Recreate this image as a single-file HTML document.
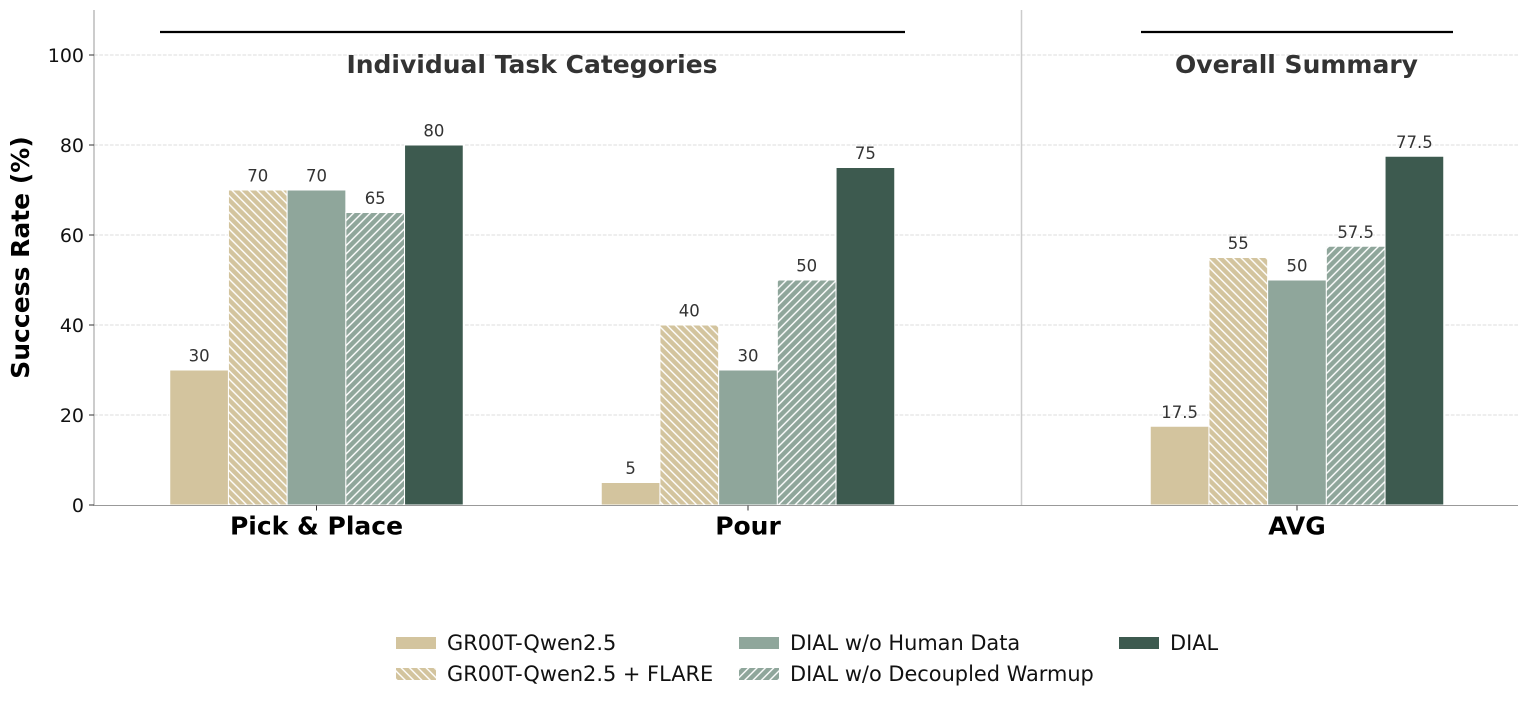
<!DOCTYPE html>
<html>
<head>
<meta charset="utf-8">
<style>
  html,body{margin:0;padding:0;background:#fff;}
  svg{display:block;}
  text{font-family:"DejaVu Sans","Liberation Sans",sans-serif;}
</style>
</head>
<body>
<svg width="1528" height="702" viewBox="0 0 1528 702" xmlns="http://www.w3.org/2000/svg">
  <defs>
    <pattern id="hTanBack" patternUnits="userSpaceOnUse" width="8.333" height="8.333">
      <rect width="8.333" height="8.333" fill="#d3c49e"/>
      <path d="M0,0 L8.333,8.333 M-4.1665,4.1665 L4.1665,12.5 M4.1665,-4.1665 L12.5,4.1665" stroke="#fff" stroke-width="1.4"/>
    </pattern>
    <pattern id="hSageFwd" patternUnits="userSpaceOnUse" width="8.333" height="8.333">
      <rect width="8.333" height="8.333" fill="#8fa69b"/>
      <path d="M0,8.333 L8.333,0 M-4.1665,4.1665 L4.1665,-4.1665 M4.1665,12.5 L12.5,4.1665" stroke="#fff" stroke-width="1.4"/>
    </pattern>
  </defs>

  <!-- grid -->
  <g stroke="#dddddd" stroke-width="1" stroke-dasharray="3.7,1.6">
    <line x1="94" y1="55" x2="1518" y2="55"/>
    <line x1="94" y1="145" x2="1518" y2="145"/>
    <line x1="94" y1="235" x2="1518" y2="235"/>
    <line x1="94" y1="325" x2="1518" y2="325"/>
    <line x1="94" y1="415" x2="1518" y2="415"/>
  </g>

  <!-- separator -->
  <line x1="1021.5" y1="10" x2="1021.5" y2="505" stroke="#cccccc" stroke-width="1.5"/>

  <!-- bars -->
  <g stroke="#fff" stroke-width="1">
    <rect x="169.75" y="370" width="58.7" height="135" fill="#d3c49e"/>
    <rect x="228.45" y="190" width="58.7" height="315" fill="url(#hTanBack)"/>
    <rect x="287.15" y="190" width="58.7" height="315" fill="#8fa69b"/>
    <rect x="345.85" y="212.5" width="58.7" height="292.5" fill="url(#hSageFwd)"/>
    <rect x="404.55" y="145" width="58.7" height="360" fill="#3d5a4f"/>

    <rect x="601.25" y="482.5" width="58.7" height="22.5" fill="#d3c49e"/>
    <rect x="659.95" y="325" width="58.7" height="180" fill="url(#hTanBack)"/>
    <rect x="718.65" y="370" width="58.7" height="135" fill="#8fa69b"/>
    <rect x="777.35" y="280" width="58.7" height="225" fill="url(#hSageFwd)"/>
    <rect x="836.05" y="167.5" width="58.7" height="337.5" fill="#3d5a4f"/>

    <rect x="1150.25" y="426.25" width="58.7" height="78.75" fill="#d3c49e"/>
    <rect x="1208.95" y="257.5" width="58.7" height="247.5" fill="url(#hTanBack)"/>
    <rect x="1267.65" y="280" width="58.7" height="225" fill="#8fa69b"/>
    <rect x="1326.35" y="246.25" width="58.7" height="258.75" fill="url(#hSageFwd)"/>
    <rect x="1385.05" y="156.25" width="58.7" height="348.75" fill="#3d5a4f"/>
  </g>

  <!-- value labels -->
  <g fill="#333333" font-size="16.5" text-anchor="middle">
    <text x="199.1" y="361.5">30</text>
    <text x="257.8" y="181.5">70</text>
    <text x="316.5" y="181.5">70</text>
    <text x="375.2" y="204">65</text>
    <text x="433.9" y="136.5">80</text>

    <text x="630.6" y="474">5</text>
    <text x="689.3" y="316.5">40</text>
    <text x="748" y="361.5">30</text>
    <text x="806.7" y="271.5">50</text>
    <text x="865.4" y="159">75</text>

    <text x="1179.6" y="417.75">17.5</text>
    <text x="1238.3" y="249">55</text>
    <text x="1297" y="271.5">50</text>
    <text x="1355.7" y="237.75">57.5</text>
    <text x="1414.4" y="147.75">77.5</text>
  </g>

  <!-- axes spines -->
  <line x1="94" y1="10" x2="94" y2="505.5" stroke="#999999" stroke-width="1"/>
  <line x1="93.5" y1="505.5" x2="1518" y2="505.5" stroke="#999999" stroke-width="1"/>

  <!-- ticks -->
  <g stroke="#333" stroke-width="1">
    <line x1="89" y1="55" x2="94" y2="55"/>
    <line x1="89" y1="145" x2="94" y2="145"/>
    <line x1="89" y1="235" x2="94" y2="235"/>
    <line x1="89" y1="325" x2="94" y2="325"/>
    <line x1="89" y1="415" x2="94" y2="415"/>
    <line x1="89" y1="505" x2="94" y2="505"/>
    <line x1="316.5" y1="505.5" x2="316.5" y2="510.5"/>
    <line x1="748" y1="505.5" x2="748" y2="510.5"/>
    <line x1="1297" y1="505.5" x2="1297" y2="510.5"/>
  </g>
  <g fill="#111" font-size="19" text-anchor="end">
    <text x="84" y="62">100</text>
    <text x="84" y="152">80</text>
    <text x="84" y="242">60</text>
    <text x="84" y="332">40</text>
    <text x="84" y="422">20</text>
    <text x="84" y="512">0</text>
  </g>

  <!-- x tick labels -->
  <g fill="#000" font-size="25" font-weight="bold" text-anchor="middle">
    <text x="316.5" y="534.5">Pick &amp; Place</text>
    <text x="748" y="534.5">Pour</text>
    <text x="1297" y="534.5">AVG</text>
  </g>

  <!-- y label -->
  <text transform="translate(29,257.5) rotate(-90)" fill="#000" font-size="25" font-weight="bold" text-anchor="middle">Success Rate (%)</text>

  <!-- section headers -->
  <line x1="160" y1="32" x2="905" y2="32" stroke="#000" stroke-width="2.2"/>
  <line x1="1141" y1="32" x2="1453" y2="32" stroke="#000" stroke-width="2.2"/>
  <g fill="#333333" font-size="25" font-weight="bold" text-anchor="middle">
    <text x="532" y="73">Individual Task Categories</text>
    <text x="1296.5" y="73">Overall Summary</text>
  </g>

  <!-- legend -->
  <g stroke="none">
    <rect x="396" y="637" width="40" height="12" fill="#d3c49e"/>
    <rect x="396" y="668" width="40" height="12" fill="url(#hTanBack)"/>
    <rect x="739" y="637" width="40" height="12" fill="#8fa69b"/>
    <rect x="739" y="668" width="40" height="12" fill="url(#hSageFwd)"/>
    <rect x="1119" y="637" width="40" height="12" fill="#3d5a4f"/>
  </g>
  <g fill="#111" font-size="20.9">
    <text x="447" y="650">GR00T-Qwen2.5</text>
    <text x="447" y="681">GR00T-Qwen2.5 + FLARE</text>
    <text x="790" y="650">DIAL w/o Human Data</text>
    <text x="790" y="681">DIAL w/o Decoupled Warmup</text>
    <text x="1170" y="650">DIAL</text>
  </g>
</svg>
</body>
</html>
